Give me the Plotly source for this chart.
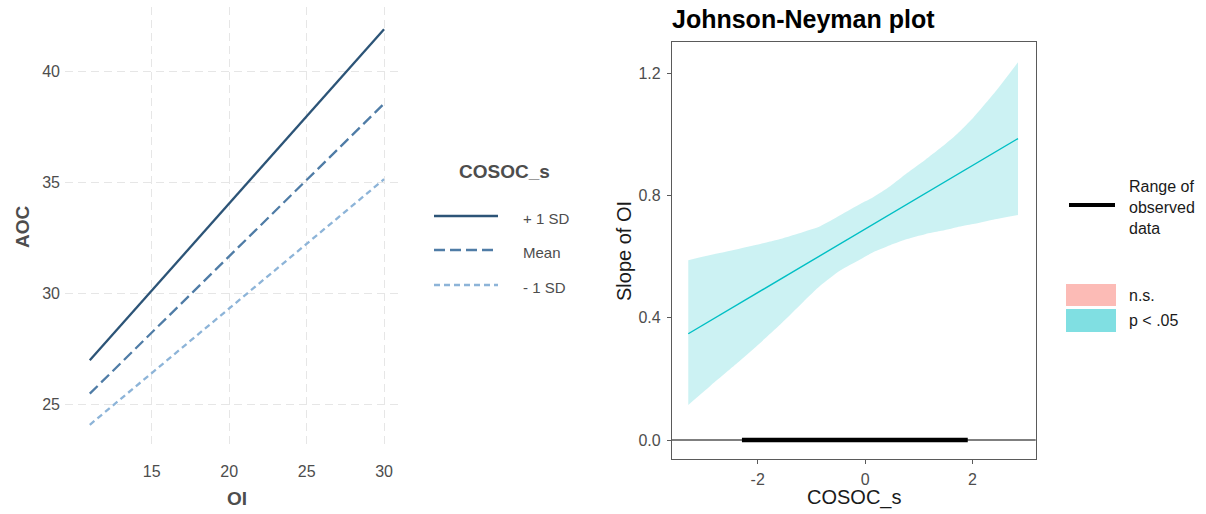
import plotly.graph_objects as go

W, H = 1206, 514

# ---------------- data: left panel (simple slopes) ----------------
oi_vals = [11, 30]
aoc_plus1sd = [27.0, 41.9]
aoc_mean = [25.5, 38.55]
aoc_minus1sd = [24.1, 35.15]
series_labels = ["+ 1 SD", "Mean", "- 1 SD"]
left_xticks = [15, 20, 25, 30]
left_yticks = [25, 30, 35, 40]

# ---------------- data: right panel (Johnson-Neyman) ----------------
cosoc = [-3.293, -2.884, -2.381, -1.953, -1.581, -1.153, -0.837, -0.465, -0.093,
         0.149, 0.465, 0.781, 1.116, 1.395, 1.712, 2.009, 2.419, 2.847]
ci_upper = [0.589, 0.606, 0.625, 0.642, 0.658, 0.681, 0.700, 0.736, 0.773,
            0.795, 0.831, 0.874, 0.917, 0.955, 1.002, 1.054, 1.139, 1.237]
ci_lower = [0.115, 0.177, 0.252, 0.318, 0.378, 0.452, 0.505, 0.555, 0.591,
            0.615, 0.638, 0.658, 0.674, 0.684, 0.697, 0.707, 0.723, 0.737]
slope_x = [-3.293, 2.847]
slope_y = [0.348, 0.987]
observed_range = [-2.294, 1.911]
right_xticks = [-2, 0, 2]
right_yticks = [0.0, 0.4, 0.8, 1.2]
right_yticktext = ["0.0", "0.4", "0.8", "1.2"]


def px(x):
    return x / W


def py(y):
    return 1 - y / H


FONT = "Liberation Sans, Arial, sans-serif"
GREY = "#4D4D4D"
col_plus, col_mean, col_minus = "#2C5477", "#4F7CA6", "#8DB4D8"
CYAN = "#00BFC4"

fig = go.Figure()

# Left panel lines
for yv, col, dash, name in [
    (aoc_plus1sd, col_plus, "solid", series_labels[0]),
    (aoc_mean, col_mean, "11px,5px", series_labels[1]),
    (aoc_minus1sd, col_minus, "6px,4px", series_labels[2]),
]:
    fig.add_trace(go.Scatter(x=oi_vals, y=yv, mode="lines", name=name,
                             line=dict(color=col, width=2.3, dash=dash),
                             showlegend=False, xaxis="x", yaxis="y"))

# Right panel: CI band (upper edge, then lower edge filled to it)
fig.add_trace(go.Scatter(x=cosoc, y=ci_upper, mode="lines",
                         line=dict(width=0, color="rgba(0,191,196,0)", shape="spline", smoothing=0.6),
                         showlegend=False, hoverinfo="skip", xaxis="x2", yaxis="y2"))
fig.add_trace(go.Scatter(x=cosoc, y=ci_lower, mode="lines", fill="tonexty",
                         fillcolor="rgba(0,191,196,0.2)",
                         line=dict(width=0, color="rgba(0,191,196,0)", shape="spline", smoothing=0.6),
                         showlegend=False, hoverinfo="skip", xaxis="x2", yaxis="y2"))
fig.add_trace(go.Scatter(x=slope_x, y=slope_y, mode="lines",
                         line=dict(color=CYAN, width=1.4), showlegend=False,
                         xaxis="x2", yaxis="y2"))
# observed range
fig.add_trace(go.Scatter(x=observed_range, y=[0, 0], mode="lines",
                         line=dict(color="black", width=4.5), showlegend=False,
                         xaxis="x2", yaxis="y2"))

shapes = [
    dict(type="line", xref="x2 domain", x0=0, x1=1, yref="y2", y0=0, y1=0,
         line=dict(color="black", width=1.1), layer="above"),
]

# manual legend for left panel
leg_y = [216, 250, 285]
for (yy, col, dash) in zip(leg_y, [col_plus, col_mean, col_minus],
                           ["solid", "11px,5px", "6px,4px"]):
    shapes.append(dict(type="line", xref="paper", yref="paper",
                       x0=px(434), x1=px(498), y0=py(yy), y1=py(yy),
                       line=dict(color=col, width=2.6, dash=dash)))
# legend for right panel
shapes.append(dict(type="line", xref="paper", yref="paper",
                   x0=px(1069), x1=px(1115), y0=py(205), y1=py(205),
                   line=dict(color="black", width=4)))
shapes.append(dict(type="rect", xref="paper", yref="paper",
                   x0=px(1066), x1=px(1116), y0=py(306), y1=py(284),
                   fillcolor="#FCBBB6", line=dict(width=0)))
shapes.append(dict(type="rect", xref="paper", yref="paper",
                   x0=px(1066), x1=px(1116), y0=py(332), y1=py(309),
                   fillcolor="#80DFE2", line=dict(width=0)))

annotations = [
    dict(text="<b>AOC</b>", x=px(22), y=py(227), xref="paper", yref="paper",
         showarrow=False, textangle=-90, font=dict(size=19, color=GREY, family=FONT),
         xanchor="center", yanchor="middle"),
    dict(text="<b>OI</b>", x=px(237), y=py(498), xref="paper", yref="paper",
         showarrow=False, font=dict(size=19, color=GREY, family=FONT),
         xanchor="center", yanchor="middle"),
    dict(text="<b>COSOC_s</b>", x=px(504), y=py(172), xref="paper", yref="paper",
         showarrow=False, font=dict(size=19, color=GREY, family=FONT),
         xanchor="center", yanchor="middle"),
]
for yy, lab in zip([218, 252, 287], series_labels):
    annotations.append(dict(text=lab, x=px(521), y=py(yy), xref="paper", yref="paper",
                            showarrow=False, font=dict(size=15, color=GREY, family=FONT),
                            xanchor="left", yanchor="middle"))
annotations += [
    dict(text="<b>Johnson-Neyman plot</b>", x=px(670), y=py(19), xref="paper", yref="paper",
         showarrow=False, font=dict(size=25, color="black", family=FONT),
         xanchor="left", yanchor="middle"),
    dict(text="Slope of OI", x=px(624), y=py(251), xref="paper", yref="paper",
         showarrow=False, textangle=-90, font=dict(size=20, color="#1A1A1A", family=FONT),
         xanchor="center", yanchor="middle"),
    dict(text="COSOC_s", x=px(854), y=py(497.5), xref="paper", yref="paper",
         showarrow=False, font=dict(size=20, color="#1A1A1A", family=FONT),
         xanchor="center", yanchor="middle"),
    dict(text="Range of<br>observed<br>data", x=px(1127), y=py(207), xref="paper", yref="paper",
         showarrow=False, align="left", font=dict(size=16, color="#1A1A1A", family=FONT),
         xanchor="left", yanchor="middle"),
    dict(text="n.s.", x=px(1127), y=py(295), xref="paper", yref="paper",
         showarrow=False, font=dict(size=16, color="#1A1A1A", family=FONT),
         xanchor="left", yanchor="middle"),
    dict(text="p < .05", x=px(1127), y=py(320), xref="paper", yref="paper",
         showarrow=False, font=dict(size=16, color="#1A1A1A", family=FONT),
         xanchor="left", yanchor="middle"),
]

fig.update_layout(
    width=W, height=H,
    margin=dict(l=0, r=0, t=0, b=0),
    paper_bgcolor="white", plot_bgcolor="white",
    font=dict(family=FONT),
    showlegend=False,
    xaxis=dict(domain=[px(65), px(398)], range=[9.4, 30.9], tickvals=left_xticks,
               showgrid=True, gridcolor="#E6E6E6", gridwidth=1.3, griddash="8px,5px",
               zeroline=False, showline=False, ticks="",
               tickfont=dict(size=16, color=GREY), ticklabelstandoff=13,
               anchor="y", fixedrange=True),
    yaxis=dict(domain=[py(447), py(7)], range=[23.1, 42.9], tickvals=left_yticks,
               showgrid=True, gridcolor="#E6E6E6", gridwidth=1.3, griddash="8px,5px",
               zeroline=False, showline=False, ticks="",
               tickfont=dict(size=16, color=GREY), ticklabelstandoff=4,
               anchor="x", fixedrange=True),
    xaxis2=dict(domain=[px(672), px(1035.7)], range=[-3.596, 3.176], tickvals=right_xticks,
                ticktext=["-2", "0", "2"],
                showgrid=False, zeroline=False, showline=True, mirror=True,
                linecolor="#5A5A5A", linewidth=1.3, ticks="outside", ticklen=4,
                tickcolor="#5A5A5A", tickwidth=1.1,
                tickfont=dict(size=16, color=GREY), ticklabelstandoff=2,
                anchor="y2", fixedrange=True),
    yaxis2=dict(domain=[py(459), py(41.7)], range=[-0.062, 1.304], tickvals=right_yticks,
                ticktext=right_yticktext,
                showgrid=False, zeroline=False, showline=True, mirror=True,
                linecolor="#5A5A5A", linewidth=1.3, ticks="outside", ticklen=4,
                tickcolor="#5A5A5A", tickwidth=1.1,
                tickfont=dict(size=16, color=GREY), ticklabelstandoff=3,
                anchor="x2", fixedrange=True),
    shapes=shapes,
    annotations=annotations,
)

fig.write_html("out.html", config={"displayModeBar": False},
               post_script="document.body.style.margin='0px';document.body.style.overflow='hidden';")
